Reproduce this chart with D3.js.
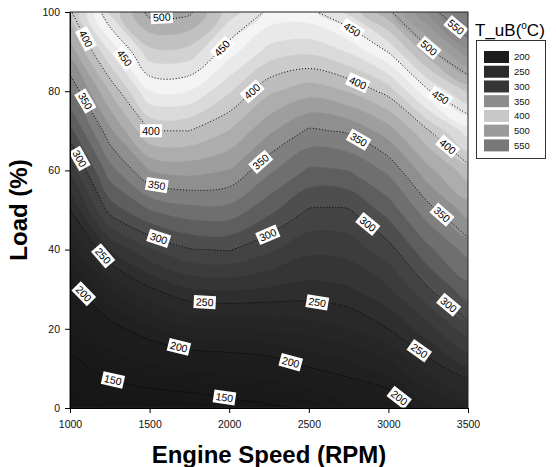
<!DOCTYPE html>
<html>
<head>
<meta charset="utf-8">
<script src="https://cdn.jsdelivr.net/npm/d3@7"></script>
<style>
  body { margin: 0; background: #fff; }
  svg { display: block; font-family: "Liberation Sans", Arial, sans-serif; }
</style>
</head>
<body>
<svg width="556" height="467"></svg>
<script>
// grid: columns follow speeds, one row per load
const speeds = [1000, 1250, 1500, 1750, 2000, 2250, 2500, 2750, 3000, 3250, 3500];
const loads = [0, 10, 20, 30, 40, 50, 60, 70, 80, 90, 100];
const tRows = [
  [115, 126, 129, 131, 139, 146, 153, 176, 183, 211, 225],
  [140, 159, 171, 179, 183, 188, 199, 207, 219, 242, 260],
  [166, 193, 211, 223, 225, 227, 231, 237, 250, 270, 295],
  [192, 226, 248, 262, 264, 261, 258, 261, 273, 299, 320],
  [220, 263, 286, 299, 301, 290, 278, 280, 295, 322, 342],
  [249, 305, 325, 333, 333, 316, 299, 299, 318, 345, 368],
  [278, 332, 363, 367, 362, 340, 323, 325, 340, 371, 394],
  [308, 359, 400, 400, 387, 365, 348, 352, 369, 399, 431],
  [338, 388, 437, 437, 414, 390, 380, 388, 405, 448, 477],
  [367, 425, 471, 470, 443, 420, 415, 426, 451, 495, 533],
  [397, 465, 505, 503, 468, 447, 446, 465, 496, 540, 580]
];

const lineLevels = [150, 200, 250, 300, 350, 400, 450, 500, 550];

// contour labels (value, rough position)
const labelValues = [500, 400, 450, 450, 450, 550, 500, 400, 400, 450, 350, 400, 350, 350, 400, 300,
  350, 350, 300, 300, 300, 250, 200, 250, 250, 300, 200, 200, 250, 150, 150, 200];
const labelSpeeds = [1577, 1069, 1342, 1954, 2771, 3401, 3254, 2143, 2803, 3317, 1058, 1509, 2195, 2813, 3348, 1048,
  1541, 3340, 1551, 2247, 2876, 1216, 1080, 1845, 2551, 3379, 1677, 2384, 3191, 1268, 1970, 3075];
const labelLoads = [98.5, 92.6, 88.4, 90.9, 95.5, 95.1, 90.9, 80, 81.7, 77.9, 76.6, 69.5, 62.3, 67.8, 64.9, 62.7,
  55.2, 49, 42.1, 43.3, 46.7, 38.7, 28.6, 25.7, 26.1, 26.1, 14.3, 11.2, 14.3, 6.8, 2.6, 3];

const legendLevels = [200, 250, 300, 350, 400, 500, 550];
const legendColors = ["#1b1b1b", "#2b2b2b", "#353535", "#8c8c8c", "#c8c8c8", "#9a9a9a", "#787878"];

// grey ramp of the shading
const rampTemps = [100, 150, 200, 250, 300, 350, 400, 442, 500, 550, 600];
const rampGreys = [20, 24, 30, 42, 70, 135, 196, 246, 168, 135, 112];

const xTicks = [1000, 1500, 2000, 2500, 3000, 3500];
const yTicks = [0, 20, 40, 60, 80, 100];

const svg = d3.select("svg");
const nx = speeds.length, ny = loads.length;
const values = tRows.flat();

const x = d3.scaleLinear().domain([1000, 3500]).range([70, 468]);
const y = d3.scaleLinear().domain([0, 100]).range([408, 12]);
// contour grid coordinate -> data
const gx = d3.scaleLinear().domain([0.5, nx - 0.5]).range([speeds[0], speeds[nx - 1]]);
const gy = d3.scaleLinear().domain([0.5, ny - 0.5]).range([loads[0], loads[ny - 1]]);
const px = c => x(gx(c)), py = c => y(gy(c));

const grey = d3.scaleLinear().domain(rampTemps)
  .range(rampGreys.map(g => d3.rgb(g, g, g).formatHex()));

svg.append("defs").append("clipPath").attr("id", "plotClip")
  .append("rect").attr("x", 70).attr("y", 12).attr("width", 398).attr("height", 396);

const plot = svg.append("g").attr("clip-path", "url(#plotClip)");

// filled bands
const step = 12.5;
const bands = d3.contours().size([nx, ny]).thresholds(d3.range(100, 600, step))(values);
const ringLine = d3.line().x(p => px(p[0])).y(p => py(p[1])).curve(d3.curveCatmullRomClosed);

plot.selectAll("path.band")
  .data(bands.filter(b => b.coordinates.length))
  .enter().append("path")
  .attr("class", "band")
  .attr("fill-rule", "evenodd")
  .attr("fill", d => grey(d.value + step / 2))
  .attr("stroke", d => grey(d.value + step / 2))
  .attr("stroke-width", 0.3)
  .attr("d", d => d.coordinates.map(poly => poly.map(r => ringLine(r.slice(0, -1))).join("")).join(""));

// dotted contour lines, keeping only the parts inside the grid
const inside = p => p[0] >= 0.499 && p[0] <= nx - 0.499 && p[1] >= 0.499 && p[1] <= ny - 0.499;
function interiorRuns(ring) {
  const pts = ring.slice(0, -1);
  const k = pts.findIndex(p => !inside(p));
  if (k < 0) return [{pts: pts, closed: true}];
  const rot = pts.slice(k).concat(pts.slice(0, k));
  let runs = [], cur = [];
  rot.forEach(p => {
    if (inside(p)) cur.push(p);
    else { if (cur.length > 1) runs.push({pts: cur, closed: false}); cur = []; }
  });
  if (cur.length > 1) runs.push({pts: cur, closed: false});
  return runs;
}

const lines = d3.contours().size([nx, ny]).thresholds(lineLevels)(values);
const runsByLevel = {};
lines.forEach(c => {
  runsByLevel[c.value] = [];
  c.coordinates.forEach(poly => poly.forEach(r => {
    runsByLevel[c.value] = runsByLevel[c.value].concat(interiorRuns(r));
  }));
});

const openLine = d3.line().x(p => px(p[0])).y(p => py(p[1])).curve(d3.curveCatmullRom);
const allRuns = [].concat(...lineLevels.map(v => runsByLevel[v]));
plot.selectAll("path.iso")
  .data(allRuns)
  .enter().append("path")
  .attr("class", "iso")
  .attr("fill", "none")
  .attr("stroke", "#000")
  .attr("stroke-width", 1)
  .attr("stroke-dasharray", "1,2")
  .attr("d", d => (d.closed ? ringLine : openLine)(d.pts));

// labels snapped onto their line
function snap(v, sx, sy) {
  let best = null;
  runsByLevel[v].forEach(run => {
    const p = run.pts.map(q => [px(q[0]), py(q[1])]);
    for (let i = 0; i < p.length - 1; i++) {
      const [ax, ay] = p[i], [bx, by] = p[i + 1];
      const dx = bx - ax, dy = by - ay, L = dx * dx + dy * dy || 1;
      const t = Math.max(0, Math.min(1, ((sx - ax) * dx + (sy - ay) * dy) / L));
      const qx = ax + t * dx, qy = ay + t * dy;
      const dd = (qx - sx) ** 2 + (qy - sy) ** 2;
      if (!best || dd < best.dd) best = {dd, x: qx, y: qy, a: Math.atan2(dy, dx) * 180 / Math.PI};
    }
  });
  if (!best) return {x: sx, y: sy, a: 0};
  let a = best.a;
  if (a > 90) a -= 180;
  if (a < -90) a += 180;
  if (best.dd > 64) return {x: sx, y: sy, a: a};
  return {x: best.x, y: best.y, a: a};
}

const labels = labelValues.map((v, i) => {
  const s = snap(v, x(labelSpeeds[i]), y(labelLoads[i]));
  return {v: v, x: s.x, y: s.y, a: s.a};
});

const lab = plot.selectAll("g.clab")
  .data(labels)
  .enter().append("g")
  .attr("class", "clab")
  .attr("transform", d => `translate(${d.x},${d.y}) rotate(${d.a})`);
lab.append("rect")
  .attr("x", -11).attr("y", -6.5).attr("width", 22).attr("height", 13)
  .attr("fill", "#fff");
lab.append("text")
  .attr("text-anchor", "middle")
  .attr("dy", "0.36em")
  .attr("font-size", "10.5px")
  .attr("fill", "#000")
  .text(d => d.v);

// frame and axes
svg.append("rect")
  .attr("x", 70).attr("y", 12).attr("width", 398).attr("height", 396)
  .attr("fill", "none").attr("stroke", "#222").attr("stroke-width", 1);

const xAxis = svg.append("g")
  .attr("transform", "translate(0,408)")
  .call(d3.axisBottom(x).tickValues(xTicks).tickSize(5).tickSizeOuter(0).tickPadding(8).tickFormat(d3.format("d")));
const yAxis = svg.append("g")
  .attr("transform", "translate(70,0)")
  .call(d3.axisLeft(y).tickValues(yTicks).tickSize(5).tickSizeOuter(0).tickPadding(5));

[xAxis, yAxis].forEach(g => {
  g.selectAll("text").attr("font-size", "10.5px").attr("fill", "#111")
    .attr("font-family", "\"Liberation Sans\", Arial, sans-serif");
  g.selectAll("line, path").attr("stroke", "#000");
});

svg.append("text")
  .attr("x", 269).attr("y", 463)
  .attr("text-anchor", "middle")
  .attr("font-size", "24px").attr("font-weight", "bold")
  .text("Engine Speed (RPM)");

svg.append("text")
  .attr("transform", "translate(27,210) rotate(-90)")
  .attr("text-anchor", "middle")
  .attr("font-size", "24px").attr("font-weight", "bold")
  .text("Load (%)");

// legend
const title = svg.append("text")
  .attr("x", 475).attr("y", 36)
  .attr("font-size", "17px");
title.append("tspan").text("T_uB(");
title.append("tspan").attr("font-size", "10px").attr("dy", "-7").text("o");
title.append("tspan").attr("dy", "7").text("C)");

svg.append("rect")
  .attr("x", 476.5).attr("y", 40.5).attr("width", 69).attr("height", 118)
  .attr("fill", "#fff").attr("stroke", "#333").attr("stroke-width", 1);

const leg = svg.selectAll("g.leg")
  .data(legendLevels)
  .enter().append("g")
  .attr("class", "leg")
  .attr("transform", (d, i) => `translate(484,${57 + i * 14.73})`);
leg.append("rect")
  .attr("x", 0).attr("y", -6).attr("width", 25).attr("height", 12)
  .attr("fill", (d, i) => legendColors[i]);
leg.append("text")
  .attr("x", 30).attr("dy", "0.36em")
  .attr("font-size", "9.5px").attr("fill", "#111")
  .text(d => d);
</script>
</body>
</html>
